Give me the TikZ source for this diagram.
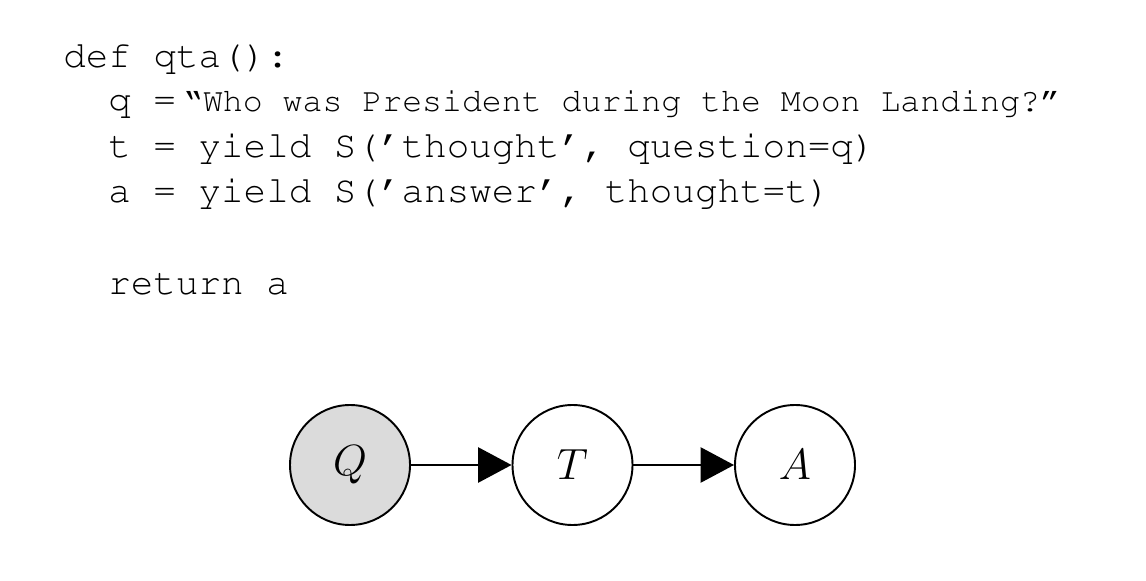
\documentclass[tikz,border=0pt]{standalone}
\usepackage[T1]{fontenc}
\usepackage{fontspec}
\usepackage{tikz}
\usetikzlibrary{arrows.meta, positioning}

\begin{document}
\begin{tikzpicture}[
    node distance=4.45cm,
    code/.style={anchor=base west, inner sep=0pt, font=\fontencoding{T1}\fontfamily{pcr}\fontsize{21.4}{24}\selectfont},
    var/.style={circle, draw, line width=1.1pt, minimum size=2.4cm, inner sep=0pt, font=\fontsize{42}{48}\selectfont},
    obs/.style={var, fill=black!14},
    edge/.style={-{Triangle[length=19pt, width=20pt]}, line width=1.1pt}
]
    \useasboundingbox (0,0) rectangle (22.92,11.6);

    % Program
    \node [code] (def) at (1.26,10.24) {def qta():};
    \node [code] (lq) at (2.16,9.36) {q =\hspace{4pt}\fontsize{18.9}{22}\selectfont\textquotedblleft Who was President during the Moon Landing?\textquotedblright};
    \node [code] (lt) at (2.16,8.44) {t = yield S(\textquoteright thought\textquoteright, question=q)};
    \node [code] (la) at (2.16,7.54) {a = yield S(\textquoteright answer\textquoteright, thought=t)};
    \node [code] (ret) at (2.16,5.70) {return a};

    % Graphical model
    \node [obs] (q) at (7.0,2.3) {$Q$};
    \node [var, right of=q] (t) {$T$};
    \node [var, right of=t] (a) {$A$};

    % Dependencies
    \draw [edge] (q) -- (t);
    \draw [edge] (t) -- (a);
\end{tikzpicture}
\end{document}
